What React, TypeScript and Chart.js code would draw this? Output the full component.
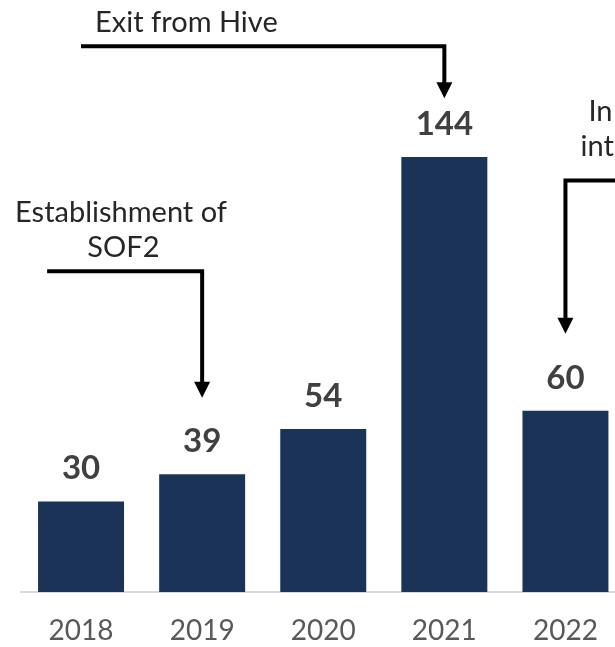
import React, { useEffect, useRef } from "react";
import { Chart, registerables } from "chart.js";

Chart.register(...registerables);

const years = ["2018", "2019", "2020", "2021", "2022"];
const values = [30, 39, 54, 144, 60];

const exitLines = ["Exit from Hive"];
const sofLines = ["Establishment of", "SOF2"];
const rightLines = ["In", "int"];

const FONT = "Lato, 'Open Sans', sans-serif";
const BAR = "#1b3356";

type Ann = {
  lines: string[];
  lineShift: number[]; // per-line shift in category units
  textX: number; // category index
  textY: number; // value units (center of first line)
  align: CanvasTextAlign;
  lineY: number;
  startX: number;
  targetX: number;
  tipY: number;
};

const annotations: Ann[] = [
  { lines: exitLines, lineShift: [0], textX: 0.87, textY: 188.5, align: "center", lineY: 180.7, startX: 0.0, targetX: 3, tipY: 163.5 },
  { lines: sofLines, lineShift: [0, 0.02], textX: 0.33, textY: 125.5, align: "center", lineY: 106.2, startX: -0.28, targetX: 1, tipY: 64.3 },
  { lines: rightLines, lineShift: [0, -0.066], textX: 4.19, textY: 159, align: "left", lineY: 136.2, startX: 5.2, targetX: 4, tipY: 85.5 },
];

const annPlugin = {
  id: "annPlugin",
  afterDatasetsDraw(chart: any) {
    const ctx = chart.ctx;
    const xs = chart.scales.x;
    const ys = chart.scales.y;
    const step = xs.getPixelForValue(1) - xs.getPixelForValue(0);
    const px = (i: number) => xs.getPixelForValue(0) + i * step;
    const py = (v: number) => ys.getPixelForValue(v);
    ctx.save();
    // value labels
    const meta = chart.getDatasetMeta(0);
    ctx.font = `bold 33px ${FONT}`;
    ctx.fillStyle = "#404040";
    ctx.textAlign = "center";
    ctx.textBaseline = "alphabetic";
    meta.data.forEach((bar: any, i: number) => {
      ctx.fillText(String(values[i]), bar.x, bar.y - 22);
    });
    // annotations
    annotations.forEach((a) => {
      ctx.font = `29px ${FONT}`;
      ctx.fillStyle = "#262626";
      ctx.textAlign = a.align;
      ctx.textBaseline = "middle";
      a.lines.forEach((l, k) => {
        ctx.fillText(l, px(a.textX + (a.lineShift[k] || 0)), py(a.textY) + k * 35);
      });
      const ly = py(a.lineY);
      const tx = px(a.targetX);
      const tip = py(a.tipY);
      const head = 16;
      ctx.strokeStyle = "#000";
      ctx.lineWidth = 4;
      ctx.lineJoin = "miter";
      ctx.beginPath();
      ctx.moveTo(px(a.startX), ly);
      ctx.lineTo(tx, ly);
      ctx.lineTo(tx, tip - head + 1);
      ctx.stroke();
      ctx.fillStyle = "#000";
      ctx.beginPath();
      ctx.moveTo(tx - 8, tip - head);
      ctx.lineTo(tx + 8, tip - head);
      ctx.lineTo(tx, tip);
      ctx.closePath();
      ctx.fill();
    });
    ctx.restore();
  },
};

export default function App() {
  const ref = useRef<HTMLCanvasElement>(null);
  useEffect(() => {
    if (!ref.current) return;
    const chart = new Chart(ref.current, {
      type: "bar",
      data: {
        labels: years,
        datasets: [
          {
            data: values,
            backgroundColor: BAR,
            borderWidth: 0,
            barPercentage: 0.71,
            categoryPercentage: 1,
          },
        ],
      },
      options: {
        animation: false,
        responsive: false,
        maintainAspectRatio: false,
        layout: { padding: { left: 20.5, right: 0, top: 0, bottom: 0 } },
        plugins: { legend: { display: false }, tooltip: { enabled: false } },
        scales: {
          x: {
            grid: { display: false, drawTicks: false },
            border: { display: true, color: "#d9d9d9", width: 2 },
            ticks: { color: "#595959", font: { family: FONT, size: 28 }, padding: 22 },
            afterFit: (s: any) => {
              s.height = 55;
            },
          },
          y: {
            display: false,
            min: 0,
            max: 196,
          },
        },
      },
      plugins: [annPlugin],
    });
    return () => chart.destroy();
  }, []);
  return (
    <div style={{ position: "fixed", left: 0, top: 0, width: 615, height: 647, overflow: "hidden", background: "#fff" }}>
      <canvas ref={ref} width={626} height={647} style={{ width: 626, height: 647, display: "block" }} />
    </div>
  );
}
